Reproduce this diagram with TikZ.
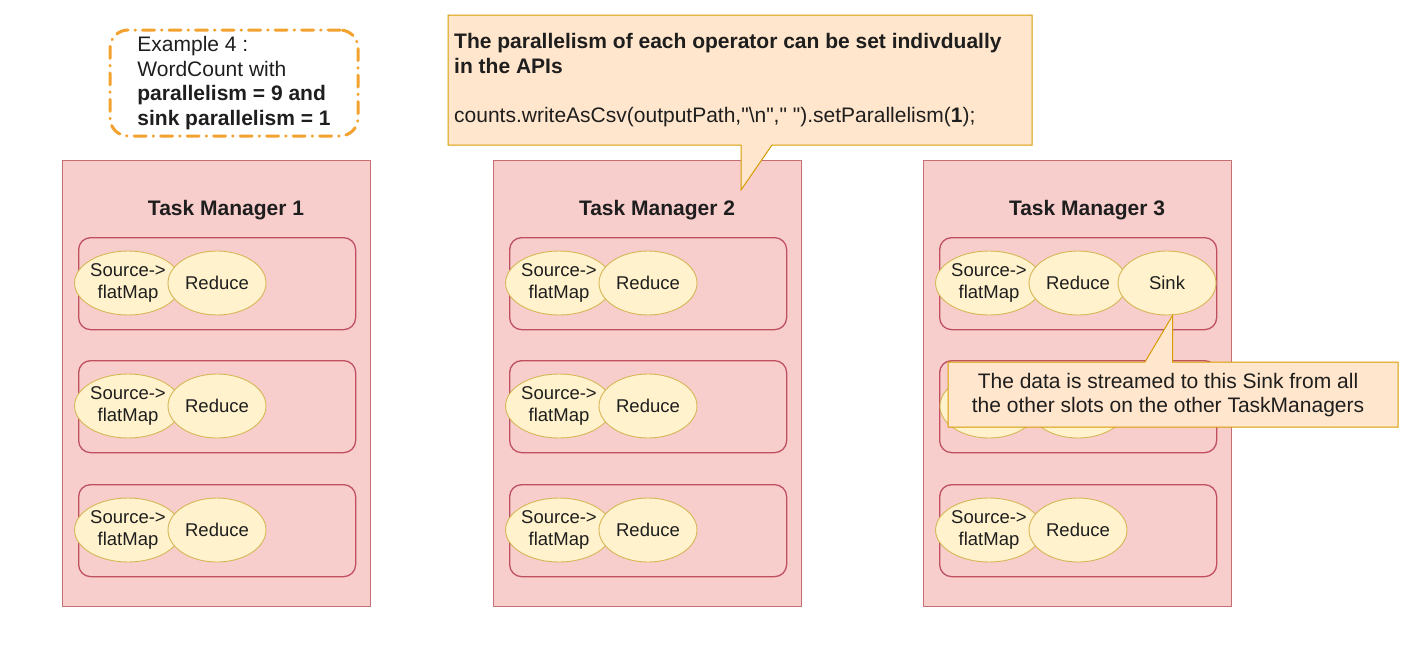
\documentclass[tikz,border=0pt]{standalone}
\usepackage{fontspec}
\setmainfont{Liberation Sans}
\newfontfamily\codefont{Liberation Sans}[Ligatures=TeXOff]
\usetikzlibrary{shapes.geometric}
\definecolor{tmfill}{HTML}{F8CECC}
\definecolor{tmline}{HTML}{C76E72}
\definecolor{slotline}{HTML}{BF5060}
\definecolor{opfill}{HTML}{FFF2CC}
\definecolor{opline}{HTML}{D6B656}
\definecolor{notefill}{HTML}{FFE6CC}
\definecolor{noteline}{HTML}{D79B00}
\definecolor{exline}{HTML}{F2A22E}
\definecolor{ink}{HTML}{1E1E1E}
\tikzset{
  tmbox/.style={draw=tmline, fill=tmfill, line width=1.3pt, anchor=north west,
    minimum width=308pt, minimum height=446pt, inner sep=0pt},
  tmtitle/.style={font=\fontsize{21}{24.5}\selectfont\bfseries},
  slotbox/.style={draw=slotline, fill=tmfill, line width=1.3pt, rounded corners=12pt,
    anchor=north west, minimum width=277pt, minimum height=92pt, inner sep=0pt},
  op/.style={ellipse, draw=opline, fill=opfill, line width=0.9pt, minimum width=98pt,
    minimum height=64pt, inner sep=0pt, align=center,
    font=\fontsize{18.5}{22}\selectfont},
  notebox/.style={draw=noteline, fill=notefill, line width=1pt, line join=miter},
  notetext/.style={inner sep=0pt, font=\fontsize{21}{24.5}\selectfont},
  exbox/.style={draw=exline, line width=3pt, rounded corners=18pt, line cap=round,
    dash pattern=on 12pt off 7pt on 0.5pt off 7pt, align=left,
    minimum width=248pt, minimum height=106pt, inner sep=0pt,
    font=\fontsize{21}{24.5}\selectfont}
}
\begin{document}
\begin{tikzpicture}[x=1pt, y=-1pt, text=ink, line join=round]
\useasboundingbox (0,0) rectangle (1413,646);
% example note
\node[exbox] (example) at (234,83) {Example 4 :\\WordCount with\\\textbf{parallelism = 9 and}\\\textbf{sink parallelism = 1}};
% task managers with three slots each
\foreach \t/\x in {1/62,2/493,3/923}{
  \node[tmbox] (tm\t) at (\x,160) {};
  \node[tmtitle] (title\t) at (\x+164,210) {Task Manager \t};
  \foreach \s/\y in {1/237,2/360,3/484}{
    \node[slotbox] (slot\t\s) at (\x+16,\y) {};
    % the middle slot of TM 3 is hidden under the note
    \ifnum\t\s=32
      \node[op] (src\t\s) at (\x+66,\y+46) {};
      \node[op] (red\t\s) at (\x+155,\y+46) {};
    \else
      \node[op] (src\t\s) at (\x+66,\y+46) {Source->\\flatMap};
      \node[op] (red\t\s) at (\x+155,\y+46) {Reduce};
    \fi
  }
}
\node[op] (sink) at (1167,283) {Sink};
% callout on the API
\coordinate (tip1) at (741,190);
\filldraw[notebox] (448,15) -- (1032,15) -- (1032,145) -- (772,145) -- (tip1) -- (741,145) -- (448,145) -- cycle;
\node[notetext, anchor=west, align=left] (note1) at (454,80) {\textbf{The parallelism of each operator can be set indivdually}\\\textbf{in the APIs}\\[24.5pt]{\codefont counts.writeAsCsv(outputPath,"\textbackslash n"," ").setParallelism(\textbf{1});}};
% callout on the sink
\coordinate (tip2) at (sink.-80);
\coordinate (n2) at (948,362);
\filldraw[notebox] (n2) -- (1145,362) -- (tip2) -- (tip2 |- n2) -- (1398,362) -- (1398,427) -- (948,427) -- cycle;
\node[notetext, align=center] (note2) at (1168,395) {The data is streamed to this Sink from all\\the other slots on the other TaskManagers};
\end{tikzpicture}
\end{document}
